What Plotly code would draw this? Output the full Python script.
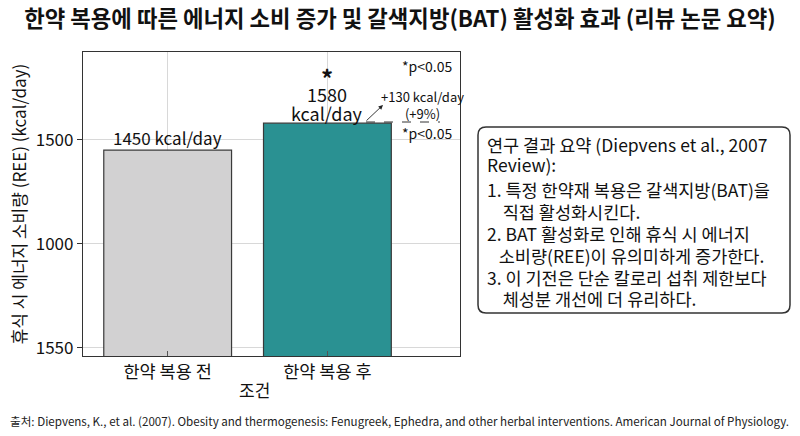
import plotly.graph_objects as go

categories = ["한약 복용 전", "한약 복용 후"]
ree_values = [1450, 1580]
value_text = ["1450 kcal/day", "1580"]
unit_text = ["", "kcal/day"]
sig_marks = ["", "*"]
bar_colors = ["#d2d1d2", "#2a9192"]
y_tickvals = [500, 1000, 1500]
y_ticktext = ["1550", "1000", "1500"]
x_title = "조건"
summary_lines = [
    "연구 결과 요약 (Diepvens et al., 2007",
    "Review):",
    "1. 특정 한약재 복용은 갈색지방(BAT)을",
    "    직접 활성화시킨다.",
    "2. BAT 활성화로 인해 휴식 시 에너지",
    "   소비량(REE)이 유의미하게 증가한다.",
    "3. 이 기전은 단순 칼로리 섭취 제한보다",
    "    체성분 개선에 더 유리하다.",
]
summary_y = [144, 164, 189, 211, 234, 255, 277, 298]

FONT = "Noto Sans CJK KR"
x_pos = list(range(len(categories)))

W, H = 800, 436
ML, MR, MT, MB = 83, 340, 52, 80
PW, PH = W - ML - MR, H - MT - MB

def px(x):
    return (x - ML) / PW
def py(y):
    return (H - MB - y) / PH

fig = go.Figure()
fig.add_trace(go.Bar(
    x=x_pos, y=ree_values, width=0.8,
    marker=dict(color=bar_colors, line=dict(color="#3a3a3a", width=1.2)),
    showlegend=False, hoverinfo="skip",
))

# value labels
fig.add_annotation(x=0, y=ree_values[0], text=value_text[0], showarrow=False,
                   yanchor="bottom", yshift=-2, font=dict(size=17, color="#111"))
fig.add_annotation(x=1, y=ree_values[1], text=unit_text[1], showarrow=False,
                   yanchor="bottom", yshift=-5, font=dict(size=18, color="#111"))
fig.add_annotation(x=1, y=ree_values[1], text=value_text[1], showarrow=False,
                   yanchor="bottom", yshift=14, font=dict(size=18, color="#111"))
fig.add_annotation(x=1, y=ree_values[1], text="<b>" + sig_marks[1] + "</b>", showarrow=False,
                   yanchor="bottom", yshift=26, font=dict(size=24, color="#111"))

# p-value notes
fig.add_annotation(xref="paper", yref="paper", x=px(454), y=py(66), text="*p<0.05",
                   showarrow=False, xanchor="right", yanchor="middle",
                   font=dict(size=14, color="#111"))
fig.add_annotation(xref="paper", yref="paper", x=px(454), y=py(133), text="*p<0.05",
                   showarrow=False, xanchor="right", yanchor="middle",
                   font=dict(size=14, color="#111"))
fig.add_annotation(xref="paper", yref="paper", x=px(422), y=py(105),
                   text="+130 kcal/day<br>(+9%)", showarrow=False,
                   xanchor="center", yanchor="middle",
                   font=dict(size=13, color="#111"))
# arrow
fig.add_annotation(xref="paper", yref="paper", axref="pixel", ayref="pixel",
                   x=px(383), y=py(105), ax=-18, ay=17, text="",
                   showarrow=True, arrowhead=2, arrowsize=1, arrowwidth=0.9,
                   arrowcolor="#222")
fig.add_shape(type="line", xref="paper", yref="paper",
              x0=px(366), x1=px(440), y0=py(122), y1=py(122),
              line=dict(color="#333", width=1, dash="dash"))

# summary box
x0b, x1b, y0b, y1b, r = 478, 790, 127, 313, 8
path = (f"M {px(x0b+r)} {py(y0b)} L {px(x1b-r)} {py(y0b)} "
        f"Q {px(x1b)} {py(y0b)} {px(x1b)} {py(y0b+r)} L {px(x1b)} {py(y1b-r)} "
        f"Q {px(x1b)} {py(y1b)} {px(x1b-r)} {py(y1b)} L {px(x0b+r)} {py(y1b)} "
        f"Q {px(x0b)} {py(y1b)} {px(x0b)} {py(y1b-r)} L {px(x0b)} {py(y0b+r)} "
        f"Q {px(x0b)} {py(y0b)} {px(x0b+r)} {py(y0b)} Z")
fig.add_shape(type="path", xref="paper", yref="paper", path=path,
              line=dict(color="#333", width=1.5), fillcolor="white")
for line, yy in zip(summary_lines, summary_y):
    fig.add_annotation(xref="paper", yref="paper", x=px(485), y=py(yy), text=line,
                       showarrow=False, xanchor="left", yanchor="middle",
                       font=dict(size=17.5, color="#111"))

# x-axis title
fig.add_annotation(xref="paper", yref="paper", x=px(254), y=py(389), text=x_title,
                   showarrow=False, xanchor="center", yanchor="middle",
                   font=dict(size=17, color="#111"))

# source
fig.add_annotation(xref="paper", yref="paper", x=px(8), y=py(421),
                   text="출처: Diepvens, K., et al. (2007). Obesity and thermogenesis: Fenugreek, Ephedra, and other herbal interventions. American Journal of Physiology.",
                   showarrow=False, xanchor="left", yanchor="middle",
                   font=dict(size=11.6, color="#222"))

fig.update_layout(
    width=W, height=H,
    margin=dict(l=ML, r=MR, t=MT, b=MB),
    paper_bgcolor="white", plot_bgcolor="white",
    font=dict(family=FONT, color="#111"),
    title=dict(text="<b>한약 복용에 따른 에너지 소비 증가 및 갈색지방(BAT) 활성화 효과 (리뷰 논문 요약)</b>",
               x=0.5, xanchor="center", y=1 - 19 / H, yanchor="middle",
               font=dict(size=22.3, color="#111")),
)
fig.update_xaxes(range=[-0.53, 1.83], tickvals=x_pos, ticktext=categories,
                 showgrid=True, gridcolor="#d8d8d8", gridwidth=1,
                 showline=True, linecolor="#333", linewidth=1.2, mirror=True,
                 ticks="inside", ticklen=5, tickcolor="#555",
                 tickfont=dict(size=17.5, color="#111"),
                 zeroline=False)
fig.update_yaxes(range=[461, 1922], tickvals=y_tickvals, ticktext=y_ticktext,
                 showgrid=True, gridcolor="#d8d8d8", gridwidth=1,
                 showline=True, linecolor="#333", linewidth=1.2, mirror=True,
                 ticks="outside", ticklen=5, tickcolor="#333",
                 tickfont=dict(size=17, color="#111"),
                 title=dict(text="휴식 시 에너지 소비량 (REE) (kcal/day)",
                            font=dict(size=17, color="#111"), standoff=4),
                 zeroline=False)

fig.write_html("out.html", config={"displayModeBar": False},
               post_script="document.body.style.margin='0';")
